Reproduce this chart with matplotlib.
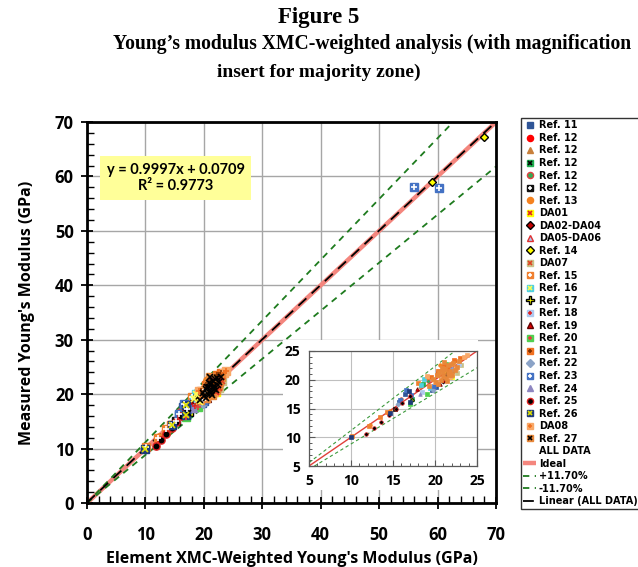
import matplotlib
matplotlib.use('Agg')
import matplotlib.pyplot as plt
from matplotlib.patches import Rectangle
from matplotlib.ticker import MultipleLocator

# ---------------- data ----------------
ref11_x = [16.4, 15.7, 19.6, 20.1]
ref11_y = [17.6, 16.2, 18.3, 18.7]
ref12a_x = [20.3, 21.0, 21.7]
ref12a_y = [21.4, 20.9, 22.3]
ref12b_x = [18.2, 20.8, 22.1]
ref12b_y = [18.9, 20.2, 21.6]
ref12c_x = [17.3, 18.6]
ref12c_y = [16.6, 19.3]
ref12d_x = [16.0, 19.2]
ref12d_y = [16.7, 19.8]
ref12e_x = [15.2, 21.4]
ref12e_y = [15.0, 21.0]
ref13_x = [12.3, 14.7, 18.9, 20.6, 22.4]
ref13_y = [12.1, 14.5, 20.3, 22.6, 23.3]
da01_x = [21.2, 22.0]
da01_y = [21.5, 20.4]
da0204_x = [20.9, 21.5]
da0204_y = [19.8, 21.2]
da0506_x = [21.8]
da0506_y = [22.0]
ref14_x = [59.0, 68.0]
ref14_y = [59.0, 67.2]
da07_x = [22.6, 23.1]
da07_y = [21.2, 22.5]
ref15_x = [10.1, 12.2, 13.5, 14.3, 18.0, 20.2]
ref15_y = [10.3, 12.0, 13.6, 14.4, 19.5, 20.8]
ref16_x = [18.3, 18.7, 19.4]
ref16_y = [19.1, 20.1, 18.5]
ref17_x = [17.3, 21.0]
ref17_y = [16.4, 22.0]
ref18_x = [18.5, 22.8]
ref18_y = [17.9, 22.7]
ref19_x = [17.8, 20.6]
ref19_y = [18.4, 19.2]
ref20_x = [17.0, 19.0, 21.3]
ref20_y = [15.8, 17.6, 22.8]
ref21_x = [19.5, 20.4, 21.1, 21.6, 22.3, 23.0]
ref21_y = [20.5, 21.6, 22.4, 21.8, 23.5, 23.8]
ref22_x = [15.6, 19.8, 22.0]
ref22_y = [15.7, 18.2, 21.9]
ref23_x = [56.0, 60.3, 15.8, 16.6, 17.1, 19.9]
ref23_y = [58.1, 57.8, 16.4, 18.2, 17.3, 19.0]
ref24_x = [18.2, 21.9]
ref24_y = [17.5, 20.7]
ref25_x = [11.8, 12.7, 13.6, 14.5, 15.3, 16.1, 17.0]
ref25_y = [10.5, 11.6, 12.7, 13.8, 14.9, 16.0, 17.1]
ref26_x = [10.0, 16.9, 17.0, 14.6]
ref26_y = [10.0, 18.0, 16.2, 14.3]
da08_x = [19.1, 20.0, 20.9, 21.8, 22.5, 23.4, 23.8]
da08_y = [20.6, 19.6, 21.9, 20.4, 22.1, 23.9, 24.3]
ref27_x = [19.3, 19.8, 20.1, 20.4, 20.7, 20.9, 21.0, 21.2, 21.3, 21.5, 21.6, 21.8,
           22.0, 22.2, 22.4, 22.6, 21.1, 20.8, 21.4, 21.7, 20.5, 22.9, 21.9, 20.3]
ref27_y = [19.0, 20.2, 19.6, 20.9, 20.0, 21.4, 20.6, 21.9, 20.3, 21.2, 22.5, 21.5,
           20.8, 22.9, 21.7, 22.2, 23.1, 22.0, 19.8, 20.9, 21.3, 23.2, 22.7, 19.3]

fit_slope = 0.9997
fit_intercept = 0.0709
r_squared = 0.9773
tolerance = 0.117
axis_max = 70
inset_min, inset_max = 5, 25

# label, x, y, marker, face, edge, overlay marker, overlay colour
series = [
    ("Ref. 11", ref11_x, ref11_y, 's', '#2F5597', '#2F5597', None, None),
    ("Ref. 12", ref12a_x, ref12a_y, 'o', '#FF0000', '#FF0000', None, None),
    ("Ref. 12", ref12b_x, ref12b_y, '^', '#C8803C', '#C8803C', None, None),
    ("Ref. 12", ref12c_x, ref12c_y, 's', '#1FAF50', '#1FAF50', 'x', '#000000'),
    ("Ref. 12", ref12d_x, ref12d_y, 'o', '#33AA55', '#E04040', None, None),
    ("Ref. 12", ref12e_x, ref12e_y, 's', '#111111', '#111111', '+', '#FFFFFF'),
    ("Ref. 13", ref13_x, ref13_y, 'o', '#F5821F', '#F5821F', None, None),
    ("DA01", da01_x, da01_y, 's', '#FFFF00', '#FFFF00', 'x', '#E02020'),
    ("DA02-DA04", da0204_x, da0204_y, 'D', '#C00000', '#000000', None, None),
    ("DA05-DA06", da0506_x, da0506_y, '^', '#A8C8F0', '#E03030', None, None),
    ("Ref. 14", ref14_x, ref14_y, 'D', '#FFFF00', '#000000', None, None),
    ("DA07", da07_x, da07_y, 's', '#C9C28A', '#C9C28A', 'x', '#E04020'),
    ("Ref. 15", ref15_x, ref15_y, 's', '#F08030', '#F08030', '+', '#FFFFFF'),
    ("Ref. 16", ref16_x, ref16_y, 's', '#4FD0E0', '#4FD0E0', 'x', '#FFFF50'),
    ("Ref. 17", ref17_x, ref17_y, 'P', '#FFFF00', '#000000', None, None),
    ("Ref. 18", ref18_x, ref18_y, 's', '#AFC8EE', '#AFC8EE', '+', '#E02020'),
    ("Ref. 19", ref19_x, ref19_y, '^', '#E00000', '#600000', None, None),
    ("Ref. 20", ref20_x, ref20_y, 's', '#50D050', '#50D050', '+', '#E04040'),
    ("Ref. 21", ref21_x, ref21_y, 's', '#F07020', '#F07020', '+', '#803000'),
    ("Ref. 22", ref22_x, ref22_y, 'D', '#8BA3C7', '#8BA3C7', None, None),
    ("Ref. 23", ref23_x, ref23_y, 's', '#4472C4', '#4472C4', '+', '#FFFFFF'),
    ("Ref. 24", ref24_x, ref24_y, '^', '#8E86C0', '#8E86C0', None, None),
    ("Ref. 25", ref25_x, ref25_y, 'o', '#000000', '#E02020', None, None),
    ("Ref. 26", ref26_x, ref26_y, 's', '#1F3B7A', '#1F3B7A', 'x', '#E0E000'),
    ("DA08", da08_x, da08_y, 's', '#F8A868', '#F8A868', '+', '#F07020'),
    ("Ref. 27", ref27_x, ref27_y, 's', '#E8883A', '#E8883A', 'x', '#000000'),
]
marker_sizes = {'s': 5.5, 'o': 5.2, '^': 5.5, 'D': 4.5, 'P': 6.5}

SANS = ['Open Sans', 'DejaVu Sans']
SERIF = ['Liberation Serif', 'DejaVu Serif']

fig = plt.figure(figsize=(6.38, 5.67), dpi=100)
fig.patch.set_facecolor('white')

# ---------------- titles ----------------
fig.text(319 / 638, 1 - 17 / 567, "Figure 5", ha='center', va='center',
         fontsize=16.5, fontweight='bold', family=SERIF)
fig.text(113 / 638, 1 - 44 / 567,
         "Young\u2019s modulus XMC-weighted analysis (with magnification",
         ha='left', va='center', fontsize=14.1, fontweight='bold', family=SERIF)
fig.text(319 / 638, 1 - 72 / 567, "insert for majority zone)", ha='center', va='center',
         fontsize=14, fontweight='bold', family=SERIF)

# ---------------- main axes ----------------
ax = fig.add_axes([87 / 638, 1 - 503 / 567, (496 - 87) / 638, (503 - 122) / 567])
ax.set_xlim(0, axis_max)
ax.set_ylim(0, axis_max)
ax.xaxis.set_major_locator(MultipleLocator(10))
ax.yaxis.set_major_locator(MultipleLocator(10))
ax.xaxis.set_minor_locator(MultipleLocator(2))
ax.yaxis.set_minor_locator(MultipleLocator(2))
ax.grid(True, which='major', color='#A6A6A6', linewidth=1.0, zorder=0)
ax.set_axisbelow(True)
for s in ax.spines.values():
    s.set_linewidth(2.0)
    s.set_color('#000000')
ax.tick_params(which='major', direction='inout', length=9, width=1.3,
               labelsize=12, top=False, right=False)
ax.tick_params(which='minor', direction='in', length=5, width=1.0,
               top=False, right=False)
ax.tick_params(axis='x', which='major', pad=12)
ax.tick_params(axis='y', which='major', pad=5)
for lab in ax.get_xticklabels() + ax.get_yticklabels():
    lab.set_fontweight('bold')
    lab.set_family(SANS)

line_x = [0, axis_max]
ideal_line, = ax.plot(line_x, line_x, color='#F4867E', linewidth=3.2, zorder=2,
                      solid_capstyle='butt')
upper_x = [0, axis_max / (1 + tolerance)]
upper_line, = ax.plot(upper_x, [v * (1 + tolerance) for v in upper_x],
                      color='#1E7B1E', linewidth=1.3, linestyle=(0, (3.5, 3)), zorder=2)
lower_line, = ax.plot(line_x, [v * (1 - tolerance) for v in line_x],
                      color='#1E7B1E', linewidth=1.3, linestyle=(0, (3.5, 3)), zorder=2)
fit_line, = ax.plot(line_x, [fit_slope * v + fit_intercept for v in line_x],
                    color='#000000', linewidth=1.3, linestyle=(0, (6, 4)), zorder=2.5)

handles = []
labels = []
for (lab, xs, ys, mk, fc, ec, ov, oc) in series:
    ms = marker_sizes[mk]
    h1, = ax.plot(xs, ys, linestyle='none', marker=mk, markersize=ms,
                  markerfacecolor=fc, markeredgecolor=ec, markeredgewidth=1.0, zorder=3)
    if ov is not None:
        h2, = ax.plot(xs, ys, linestyle='none', marker=ov, markersize=4,
                      markeredgecolor=oc, markeredgewidth=1.2, zorder=3.1)
        handles.append((h1, h2))
    else:
        handles.append(h1)
    labels.append(lab)

all_x = [v for s in series for v in s[1]]
all_y = [v for s in series for v in s[2]]
all_h, = ax.plot(all_x, all_y, linestyle='none', marker='none')
handles += [all_h, ideal_line, upper_line, lower_line, fit_line]
labels += ["ALL DATA", "Ideal", "+11.70%", "-11.70%", "Linear (ALL DATA)"]

ax.text(15.2, 59.7, "y = %.4fx + %.4f\nR\u00b2 = %.4f" % (fit_slope, fit_intercept, r_squared),
        ha='center', va='center', fontsize=10.5, fontweight='bold', family=['Lato', 'DejaVu Sans'],
        linespacing=1.25, zorder=6,
        bbox=dict(facecolor='#FFFF99', edgecolor='none', boxstyle='square,pad=0.45'))

ax.set_xlabel("Element XMC-Weighted Young's Modulus (GPa)", fontsize=11.5,
              fontweight='bold', family=SANS, labelpad=5)
ax.set_ylabel("Measured Young's Modulus (GPa)", fontsize=11.5,
              fontweight='bold', family=SANS, labelpad=14)

# white backing for inset
ax.add_patch(Rectangle((283 / 638, 1 - 490 / 567), 195 / 638, 150 / 567,
                       transform=fig.transFigure, facecolor='white', edgecolor='none',
                       zorder=5))

# ---------------- legend ----------------
leg = fig.legend(handles, labels, loc='upper left',
                 bbox_to_anchor=(521 / 638, 1 - 118 / 567),
                 frameon=True, fancybox=False, edgecolor='#000000',
                 prop=dict(family='DejaVu Sans', weight='bold', size=7.0),
                 handlelength=1.25, handletextpad=0.35, labelspacing=0.26,
                 borderpad=0.25, borderaxespad=0, markerscale=0.85)
leg.get_frame().set_linewidth(1.0)

# ---------------- inset ----------------
ins = fig.add_axes([309 / 638, 1 - 466 / 567, (477 - 309) / 638, (466 - 351) / 567])
ins.set_xlim(inset_min, inset_max)
ins.set_ylim(inset_min, inset_max)
ins.xaxis.set_major_locator(MultipleLocator(5))
ins.yaxis.set_major_locator(MultipleLocator(5))
ins.xaxis.set_minor_locator(MultipleLocator(1))
ins.yaxis.set_minor_locator(MultipleLocator(1))
ins.grid(True, which='major', color='#BFBFBF', linewidth=0.8)
ins.set_axisbelow(True)
for s in ins.spines.values():
    s.set_linewidth(0.9)
    s.set_color('#595959')
ins.tick_params(which='major', direction='in', length=4, width=0.8, labelsize=10,
                pad=6, colors='#595959', labelcolor='#000000')
ins.tick_params(which='minor', direction='in', length=2.5, width=0.7, colors='#595959')
for lab in ins.get_xticklabels() + ins.get_yticklabels():
    lab.set_fontweight('bold')
    lab.set_family(SANS)

ins_x = [inset_min, inset_max]
ins.plot(ins_x, ins_x, color='#E0403A', linewidth=1.0, zorder=2)
ins.plot(ins_x, [v * (1 + tolerance) for v in ins_x], color='#3C9A3C', linewidth=0.8,
         linestyle=(0, (3, 2.5)), zorder=2)
ins.plot(ins_x, [v * (1 - tolerance) for v in ins_x], color='#3C9A3C', linewidth=0.8,
         linestyle=(0, (3, 2.5)), zorder=2)
for (lab, xs, ys, mk, fc, ec, ov, oc) in series:
    ins.plot(xs, ys, linestyle='none', marker=mk, markersize=2.6,
             markerfacecolor=fc, markeredgecolor=ec, markeredgewidth=0.5, zorder=3)

fig.savefig('out.png', dpi=100)
